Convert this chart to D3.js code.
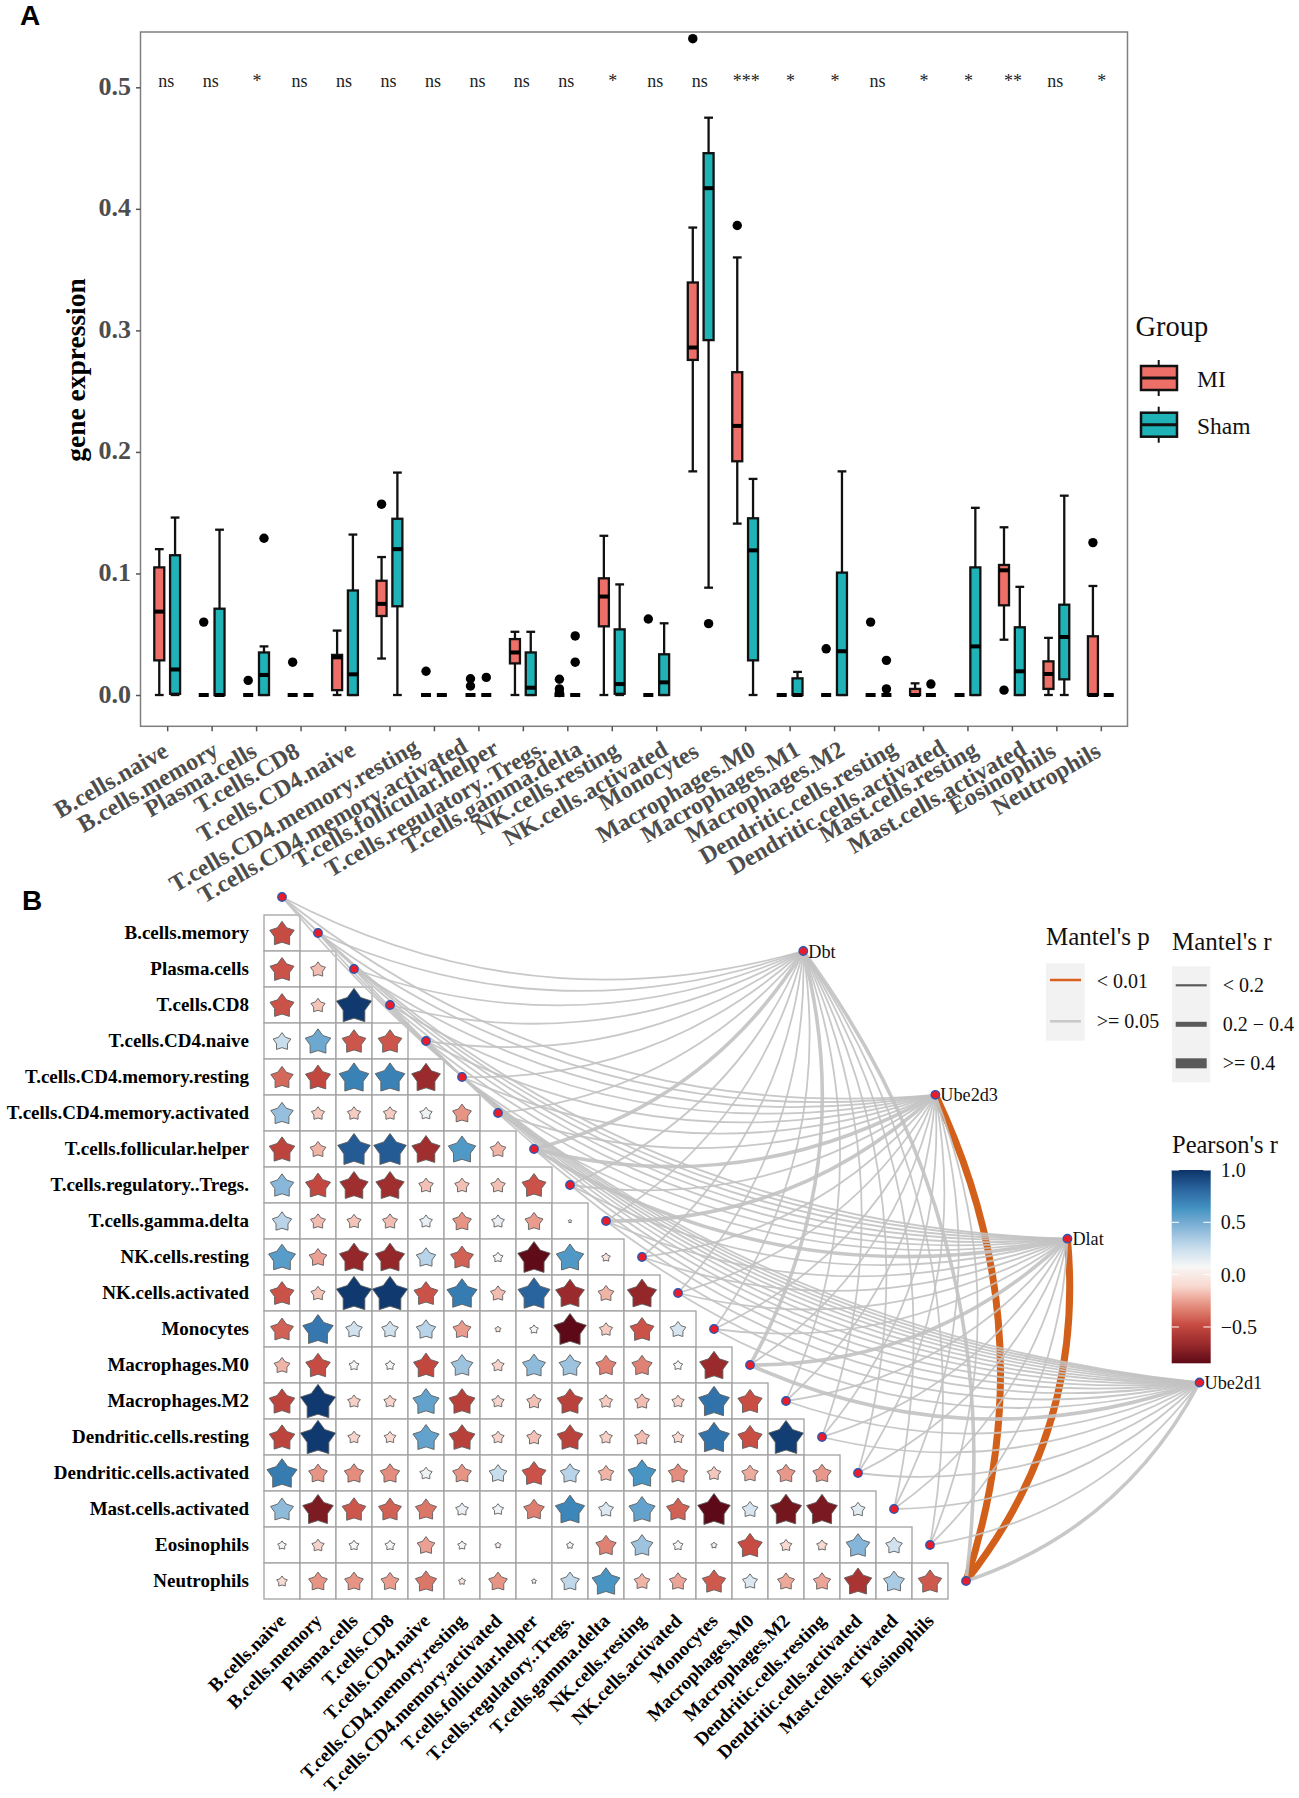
<!DOCTYPE html>
<html><head><meta charset="utf-8">
<script src="https://cdn.jsdelivr.net/npm/d3@7/dist/d3.min.js"></script>
<style>html,body{margin:0;padding:0;background:#fff}svg{display:block}text{font-family:"Liberation Serif",serif}</style>
</head><body><svg id="c" width="1299" height="1798"></svg>
<script>
// ---------- Panel A data ----------
const cellTypes = ["B.cells.naive","B.cells.memory","Plasma.cells","T.cells.CD8","T.cells.CD4.naive","T.cells.CD4.memory.resting","T.cells.CD4.memory.activated","T.cells.follicular.helper","T.cells.regulatory..Tregs.","T.cells.gamma.delta","NK.cells.resting","NK.cells.activated","Monocytes","Macrophages.M0","Macrophages.M1","Macrophages.M2","Dendritic.cells.resting","Dendritic.cells.activated","Mast.cells.resting","Mast.cells.activated","Eosinophils","Neutrophils"];
const groups = ["MI","Sham"];
const sigLabels = ["ns","ns","*","ns","ns","ns","ns","ns","ns","ns","*","ns","ns","***","*","*","ns","*","*","**","ns","*"];
const miLow  = [0,0,0,0,0,0.030,0,0,0,0,0,0,0.184,0.141,0,0,0,0,0,0.0455,0,0];
const miQ1   = [0.0285,0,0,0,0.004,0.065,0,0,0.026,0,0.0565,0,0.2757,0.1923,0,0,0,0,0,0.0738,0.005,0];
const miMed  = [0.0686,0,0,0,0.031,0.075,0,0,0.035,0,0.081,0,0.2859,0.2214,0,0,0,0,0,0.1026,0.0173,0];
const miQ3   = [0.105,0,0,0,0.033,0.094,0,0,0.046,0,0.096,0,0.3394,0.2656,0,0,0,0.005,0,0.107,0.0277,0.0483];
const miHigh = [0.120,0,0,0,0.053,0.1135,0,0,0.052,0,0.131,0,0.3846,0.360,0,0,0,0.0096,0,0.138,0.047,0.0897];
const miOutliers = [[],[0.060],[0.012],[0.027],[],[0.157],[0.0195],[0.0134,0.0074],[],[0.013,0.005,0.002],[],[0.0625],[0.54],[0.3863],[],[0.038],[0.060],[],[],[0.004],[],[0.1254]];
const shamLow  = [0,0,0,0,0,0,0,0,0,0,0,0,0.0883,0,0,0,0,0,0,0,0,0];
const shamQ1   = [0.001,0,0,0,0,0.073,0,0,0,0,0.001,0,0.292,0.0285,0,0,0,0,0,0,0.0129,0];
const shamMed  = [0.021,0,0.0165,0,0.017,0.120,0,0,0.006,0,0.009,0.0104,0.417,0.119,0,0.036,0,0,0.040,0.0195,0.0477,0];
const shamQ3   = [0.115,0.071,0.035,0,0.086,0.145,0,0,0.035,0,0.054,0.0335,0.4458,0.1454,0.0137,0.1007,0,0,0.105,0.0557,0.0743,0];
const shamHigh = [0.146,0.136,0.040,0,0.132,0.183,0,0,0.052,0,0.091,0.059,0.475,0.1778,0.019,0.184,0,0,0.154,0.089,0.164,0];
const shamOutliers = [[],[],[0.129],[],[],[],[],[0.0145],[],[0.0486,0.027],[],[],[0.0587],[],[],[],[0.0285,0.005],[0.009],[],[],[],[]];
const yTickValues = [0,0.1,0.2,0.3,0.4,0.5];

// ---------- Panel B data ----------
const rowLabels = ["B.cells.memory","Plasma.cells","T.cells.CD8","T.cells.CD4.naive","T.cells.CD4.memory.resting","T.cells.CD4.memory.activated","T.cells.follicular.helper","T.cells.regulatory..Tregs.","T.cells.gamma.delta","NK.cells.resting","NK.cells.activated","Monocytes","Macrophages.M0","Macrophages.M2","Dendritic.cells.resting","Dendritic.cells.activated","Mast.cells.activated","Eosinophils","Neutrophils"];
const colLabels = ["B.cells.naive","B.cells.memory","Plasma.cells","T.cells.CD8","T.cells.CD4.naive","T.cells.CD4.memory.resting","T.cells.CD4.memory.activated","T.cells.follicular.helper","T.cells.regulatory..Tregs.","T.cells.gamma.delta","NK.cells.resting","NK.cells.activated","Monocytes","Macrophages.M0","Macrophages.M2","Dendritic.cells.resting","Dendritic.cells.activated","Mast.cells.activated","Eosinophils"];
const pearsonRows = [
 [-0.48],
 [-0.46,-0.18],
 [-0.46,-0.16,0.98],
 [0.25,0.52,-0.45,-0.45],
 [-0.40,-0.50,0.70,0.70,-0.66],
 [0.40,-0.14,-0.14,-0.14,0.12,-0.28],
 [-0.52,-0.20,0.85,0.85,-0.64,0.60,-0.20],
 [0.44,-0.50,-0.64,-0.64,-0.17,-0.17,-0.17,-0.46],
 [0.30,-0.18,-0.16,-0.18,0.13,-0.28,0.13,-0.26,-0.01],
 [0.58,-0.25,-0.68,-0.68,0.30,-0.42,0.08,-0.84,0.60,-0.06],
 [-0.46,-0.16,0.98,0.98,-0.46,0.72,-0.18,0.82,-0.66,-0.20,-0.68],
 [-0.42,0.74,0.22,0.22,0.30,-0.26,-0.03,0.06,-0.85,-0.14,-0.46,0.20],
 [-0.20,-0.48,0.08,0.07,-0.50,0.38,-0.12,0.42,0.38,-0.33,-0.33,0.07,-0.66],
 [-0.52,0.98,-0.13,-0.12,0.55,-0.54,-0.12,-0.17,-0.53,-0.14,-0.18,-0.12,0.76,-0.47],
 [-0.52,0.98,-0.12,-0.11,0.55,-0.54,-0.12,-0.17,-0.53,-0.13,-0.18,-0.11,0.76,-0.47,0.96],
 [0.72,-0.28,-0.30,-0.30,0.12,-0.28,0.25,-0.46,0.30,-0.20,0.62,-0.30,-0.15,-0.22,-0.27,-0.27],
 [0.42,-0.75,-0.45,-0.42,-0.36,0.13,0.10,-0.34,0.68,0.18,0.55,-0.42,-0.85,0.20,-0.78,-0.76,0.16],
 [0.06,-0.12,0.08,0.08,-0.25,0.06,0.03,0.00,0.04,-0.33,0.38,0.08,0.03,-0.48,-0.11,-0.09,0.45,0.22],
 [-0.09,-0.28,-0.28,-0.26,-0.36,-0.04,-0.28,0.02,0.28,0.62,-0.20,-0.24,-0.44,0.18,-0.23,-0.24,-0.60,0.35,-0.44]
];
const genes = ["Dbt","Ube2d3","Dlat","Ube2d1"];
// Mantel r class per node (0 = <0.2, 1 = 0.2-0.4, 2 = >=0.4), order of the 20 variables
const dbtR    = [0,0,0,0,0,0,0,1,0,0,0,0,0,1,0,0,0,0,0,1];
const ube2d3R = [0,0,0,0,0,0,0,1,0,1,0,0,0,0,0,0,0,0,0,2];
const dlatR   = [0,0,0,0,0,0,0,1,0,0,0,0,0,1,0,0,0,0,0,2];
const ube2d1R = [0,0,0,0,0,0,0,0,0,0,0,0,0,1,0,0,0,0,0,1];
const ube2d3P = "Neutrophils", dlatP = "Neutrophils"; // links with Mantel's p < 0.01
const mantelPLabels = ["< 0.01",">= 0.05"];
const mantelRLabels = ["< 0.2","0.2 \u2212 0.4",">= 0.4"];
const pearsonTicks = [-0.5,0,0.5,1];
const rdbu = ["#5E0A17","#9A2A2C","#C74B42","#E58F80","#F8D9D0","#F7F7F7","#C6DCEC","#86B6D8","#4393C3","#2A659F","#0B3469"];

// ---------- drawing ----------
const svg = d3.select("#c");
const MI="#EE6F68", SH="#1FB3B8";
svg.append("text").text("A").attr("x",20).attr("y",24.5).style("font-family",'"Liberation Sans",sans-serif').style("font-weight",700).style("font-size","28px");
svg.append("text").text("B").attr("x",22).attr("y",910).style("font-family",'"Liberation Sans",sans-serif').style("font-weight",700).style("font-size","28px");

// Panel A
const pa={l:140.5,r:1127.5,t:32,b:726.3};
const xA=d3.scalePoint().domain(cellTypes).range([pa.l,pa.r]).padding(0.6);
const yA=d3.scaleLinear().domain([0,0.5]).range([695,87.3]);
const gA=svg.append("g");
gA.append("rect").attr("x",pa.l).attr("y",pa.t).attr("width",pa.r-pa.l).attr("height",pa.b-pa.t).attr("fill","#fff").attr("stroke","#7f7f7f").attr("stroke-width",1.5);
const axL=gA.append("g").attr("transform",`translate(${pa.l},0)`).call(d3.axisLeft(yA).tickValues(yTickValues).tickFormat(d3.format(".1f")).tickSize(4.5).tickPadding(5));
axL.select(".domain").remove();
axL.selectAll("line").attr("stroke","#555").attr("stroke-width",1.5);
axL.selectAll("text").attr("fill","#4d4d4d").style("font-size","26px").style("font-weight",700).attr("dy",7);
const axB=gA.append("g").attr("transform",`translate(0,${pa.b})`).call(d3.axisBottom(xA).tickSize(5));
axB.select(".domain").remove();
axB.selectAll("line").attr("stroke","#555").attr("stroke-width",1.5);
axB.selectAll("text").attr("fill","#4d4d4d").style("font-size","24px").style("font-weight",700).attr("text-anchor","end").attr("y",0).attr("dy",0)
  .attr("transform",function(){
    const w=this.getComputedTextLength()*Math.cos(Math.PI/6);
    return `translate(${3+0.21*(w-114)},${29-0.03*(w-114)}) rotate(-30)`;
  });
gA.append("text").text("gene expression").attr("transform","translate(85,370) rotate(-90)").attr("text-anchor","middle").style("font-size","27.5px").style("font-weight",700).attr("fill","#000");
gA.selectAll("text.sig").data(sigLabels).join("text").attr("class","sig").text(d=>d).attr("x",(d,i)=>xA(cellTypes[i])+(d==="ns"?-1:1)).attr("y",yA(0.5)).attr("text-anchor","middle").style("font-size","18px").attr("fill","#222");

const dodge=7.9,bw=10,capw=8.8;
function drawBoxes(sign,fill,low,q1,med,q3,high,out){
  const g=gA.append("g");
  cellTypes.forEach((c,i)=>{
    const cx=xA(c)+sign*dodge;
    g.append("line").attr("x1",cx).attr("x2",cx).attr("y1",yA(high[i])).attr("y2",yA(q3[i])).attr("stroke","#111").attr("stroke-width",2.3);
    g.append("line").attr("x1",cx).attr("x2",cx).attr("y1",yA(q1[i])).attr("y2",yA(low[i])).attr("stroke","#111").attr("stroke-width",2.3);
    [high[i],low[i]].forEach(v=>g.append("line").attr("x1",cx-capw/2).attr("x2",cx+capw/2).attr("y1",yA(v)).attr("y2",yA(v)).attr("stroke","#111").attr("stroke-width",2.3));
    g.append("rect").attr("x",cx-bw/2).attr("width",bw).attr("y",yA(q3[i])).attr("height",Math.max(0,yA(q1[i])-yA(q3[i]))).attr("fill",fill).attr("stroke","#111").attr("stroke-width",2.3);
    g.append("line").attr("x1",cx-bw/2).attr("x2",cx+bw/2).attr("y1",yA(med[i])).attr("y2",yA(med[i])).attr("stroke","#000").attr("stroke-width",4);
    out[i].forEach(v=>g.append("circle").attr("cx",cx).attr("cy",yA(v)).attr("r",4.7).attr("fill","#000"));
  });
}
drawBoxes(-1,MI,miLow,miQ1,miMed,miQ3,miHigh,miOutliers);
drawBoxes(1,SH,shamLow,shamQ1,shamMed,shamQ3,shamHigh,shamOutliers);

// Panel A legend
const la=svg.append("g");
la.append("text").text("Group").attr("x",1135.5).attr("y",336).style("font-size","28.5px").attr("fill","#111");
groups.forEach((g,i)=>{
  const cy=378+i*46.7, col=i?SH:MI;
  la.append("line").attr("x1",1158.7).attr("x2",1158.7).attr("y1",cy-18).attr("y2",cy+18).attr("stroke","#111").attr("stroke-width",2);
  la.append("rect").attr("x",1141).attr("y",cy-12).attr("width",36).attr("height",24).attr("fill",col).attr("stroke","#111").attr("stroke-width",2.5);
  la.append("line").attr("x1",1141).attr("x2",1177).attr("y1",cy).attr("y2",cy).attr("stroke","#111").attr("stroke-width",3);
  la.append("text").text(g).attr("x",1197).attr("y",cy+9).style("font-size","23.5px").attr("fill","#111");
});

// Panel B
const nodeNames=["B.cells.naive"].concat(rowLabels);
const xB=d3.scaleBand().domain(d3.range(20)).range([264,984]);
const yB=d3.scaleBand().domain(d3.range(-1,19)).range([879,1599]);
const color=d3.scaleLinear().domain(rdbu.map((_,i)=>-0.847+i*1.847/10)).range(rdbu).interpolate(d3.interpolateLab);
const radius=d3.scaleSqrt().domain([0,1]).range([0,18.6]);
const bw2=xB.bandwidth();
const gB=svg.append("g");
const starPts=d3.range(10).map(i=>({a:i*Math.PI/5,k:i%2?0.62:1}));
const star=d3.lineRadial().angle(d=>d.a).radius(d=>d.r).curve(d3.curveLinearClosed);
pearsonRows.forEach((row,i)=>row.forEach((v,j)=>{
  gB.append("rect").attr("x",xB(j)).attr("y",yB(i)).attr("width",bw2).attr("height",bw2).attr("fill","#fff").attr("stroke","#a2a2a2").attr("stroke-width",1.3);
}));
pearsonRows.forEach((row,i)=>row.forEach((v,j)=>{
  const R=radius(Math.abs(v));
  gB.append("path").attr("d",star(starPts.map(p=>({a:p.a,r:p.k*R}))))
    .attr("transform",`translate(${xB(j)+bw2/2},${yB(i)+bw2/2+0.095*R})`)
    .attr("fill",color(v)).attr("stroke","#5d5d5d").attr("stroke-width",0.9);
}));
gB.selectAll("text.row").data(rowLabels).join("text").attr("class","row").text(d=>d).attr("x",249).attr("y",(d,i)=>yB(i)+bw2/2+5.5).attr("text-anchor","end").style("font-size","19px").style("font-weight",700).attr("fill","#000");
gB.selectAll("text.col").data(colLabels).join("text").attr("class","col").text(d=>d).attr("text-anchor","end").style("font-size","19px").style("font-weight",700).attr("fill","#000")
  .attr("transform",(d,i)=>`translate(${xB(i)+bw2/2+5},1622) rotate(-45)`);

// Couple links
const gx=d3.scalePoint().domain(genes).range([803.3,1199.5]);
const gy=d3.scalePoint().domain(genes).range([951,1382.5]);
const rSets={Dbt:dbtR,Ube2d3:ube2d3R,Dlat:dlatR,Ube2d1:ube2d1R};
const sigSets={Ube2d3:ube2d3P,Dlat:dlatP};
const widthByClass=[1.8,3.6,7];
const curv=0.2;
function linkPath(x0,y0,x1,y1){
  const dx=x1-x0,dy=y1-y0,p=d3.path();
  p.moveTo(x0,y0);
  p.quadraticCurveTo((x0+x1)/2-dy*curv,(y0+y1)/2+dx*curv,x1,y1);
  return p.toString();
}
const links=[];
genes.forEach(g=>nodeNames.forEach((n,k)=>links.push({g,n,k,cls:rSets[g][k],sig:sigSets[g]===n})));
const gL=svg.append("g").attr("fill","none");
const nx=k=>xB(k)+bw2/2, ny=k=>yB(k-1)+bw2/2;
links.slice().sort((a,b)=>b.sig-a.sig||a.cls-b.cls).forEach(l=>{
  gL.append("path").attr("d",linkPath(nx(l.k),ny(l.k),gx(l.g),gy(l.g))).attr("stroke",l.sig?"#D2601A":"#c2c2c2").attr("stroke-opacity",l.sig?1:0.9).attr("stroke-width",widthByClass[l.cls]);
});
const nodes=svg.append("g");
const dot=(x,y)=>nodes.append("circle").attr("cx",x).attr("cy",y).attr("r",4.2).attr("fill","#EA1C2C").attr("stroke","#2C55B0").attr("stroke-width",1.4);
nodeNames.forEach((n,k)=>dot(nx(k),ny(k)));
genes.forEach(g=>{dot(gx(g),gy(g));
  nodes.append("text").text(g).attr("x",gx(g)+5).attr("y",gy(g)+6.5).style("font-size","18.2px").attr("fill","#111");});

// Panel B legends
const lg=svg.append("g");
const T=(s,x,y,fs)=>lg.append("text").text(s).attr("x",x).attr("y",y).style("font-size",fs+"px").attr("fill","#111");
T("Mantel's p",1046,945,25);
lg.append("rect").attr("x",1046).attr("y",963.3).attr("width",38.7).attr("height",77.4).attr("fill","#f2f2f2");
lg.append("line").attr("x1",1050).attr("x2",1081).attr("y1",980).attr("y2",980).attr("stroke","#D9601F").attr("stroke-width",2.5);
lg.append("line").attr("x1",1050).attr("x2",1081).attr("y1",1021.3).attr("y2",1021.3).attr("stroke","#c8c8c8").attr("stroke-width",2.5);
mantelPLabels.forEach((s,i)=>T(s,1096.7,987.5+i*40.7,20));
T("Mantel's r",1172,950,25);
lg.append("rect").attr("x",1172).attr("y",966.3).attr("width",38.3).attr("height",116).attr("fill","#f2f2f2");
mantelRLabels.forEach((s,i)=>{
  const cy=985.3+i*39;
  lg.append("line").attr("x1",1175.7).attr("x2",1206.7).attr("y1",cy).attr("y2",cy).attr("stroke","#5a5a5a").attr("stroke-width",[2.2,5,10][i]);
  T(s,1222.7,cy+7,20);
});
T("Pearson's r",1172,1153,24.5);
const yC=d3.scaleLinear().domain([-0.847,1]).range([1363.3,1170]);
const defs=svg.append("defs").append("linearGradient").attr("id","cb").attr("x1",0).attr("x2",0).attr("y1",1).attr("y2",0);
d3.range(0,41).forEach(i=>{const t=i/40;defs.append("stop").attr("offset",t).attr("stop-color",color(-0.847+t*1.847));});
lg.append("rect").attr("x",1171.7).attr("y",1170).attr("width",39).attr("height",193.3).attr("fill","url(#cb)");
const axC=lg.append("g").attr("transform","translate(1210.7,0)").call(d3.axisRight(yC).tickValues(pearsonTicks).tickFormat(d=>d3.format(".1f")(d).replace("-","\u2212")).tickSize(0).tickPadding(10));
axC.select(".domain").remove();
axC.selectAll("text").style("font-size","20px").attr("fill","#111");
pearsonTicks.forEach(v=>{[[1171.7,1179],[1203.4,1210.7]].forEach(([a,b])=>lg.append("line").attr("x1",a).attr("x2",b).attr("y1",yC(v)).attr("y2",yC(v)).attr("stroke","#fff").attr("stroke-width",1));});
</script></body></html>
